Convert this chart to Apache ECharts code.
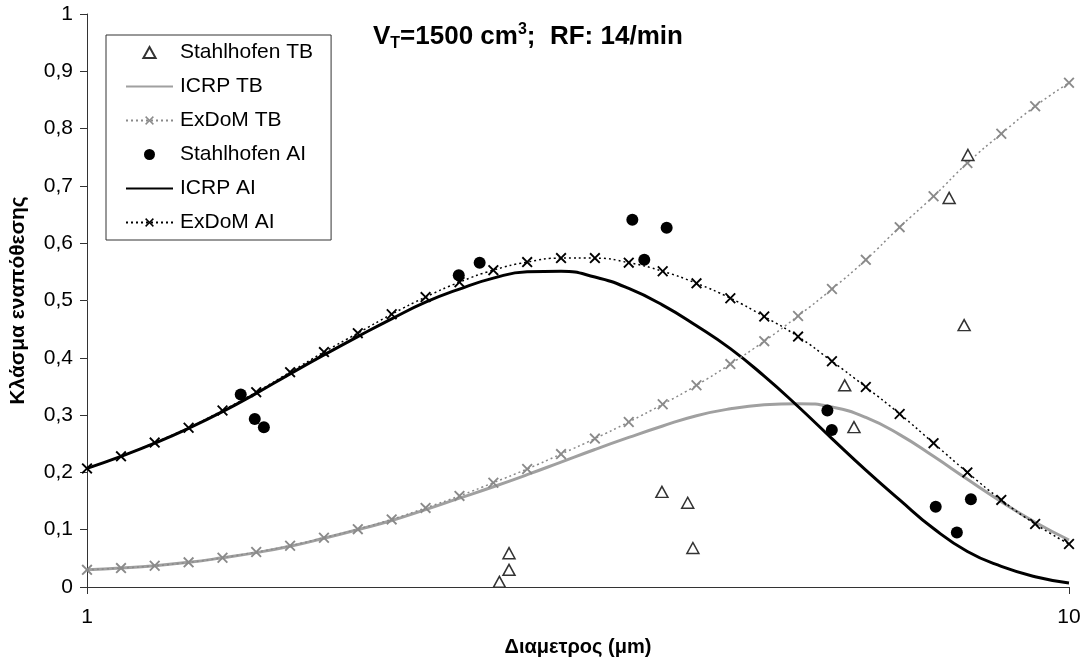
<!DOCTYPE html>
<html>
<head>
<meta charset="utf-8">
<script src="https://cdn.jsdelivr.net/npm/echarts@6/dist/echarts.min.js"></script>
<style>
html,body{margin:0;padding:0;background:#fff;}
#chart{width:1090px;height:663px;}
</style>
</head>
<body>
<div id="chart"></div>
<script>
// Particle diameters (µm) at which the model curves are tabulated
const xGrid = [1, 1.083, 1.172, 1.269, 1.374, 1.487, 1.610, 1.743, 1.887, 2.043,
  2.212, 2.395, 2.593, 2.807, 3.039, 3.290, 3.562, 3.857, 4.175, 4.520,
  4.894, 5.298, 5.736, 6.210, 6.723, 7.279, 7.880, 8.532, 9.237, 10];

const icrpTB = [0.030, 0.033, 0.037, 0.043, 0.051, 0.060, 0.071, 0.085, 0.100, 0.116,
  0.135, 0.155, 0.175, 0.196, 0.218, 0.240, 0.261, 0.281, 0.299, 0.311,
  0.318, 0.320, 0.314, 0.296, 0.266, 0.228, 0.188, 0.149, 0.113, 0.082];

const exdomTB = [0.030, 0.033, 0.037, 0.043, 0.051, 0.061, 0.072, 0.086, 0.101, 0.118,
  0.138, 0.159, 0.182, 0.206, 0.232, 0.259, 0.288, 0.319, 0.352, 0.389,
  0.429, 0.473, 0.520, 0.571, 0.628, 0.682, 0.740, 0.791, 0.839, 0.880];

const icrpAI = [0.207, 0.228, 0.251, 0.277, 0.306, 0.338, 0.372, 0.405, 0.437, 0.468,
  0.497, 0.520, 0.539, 0.550, 0.551, 0.541, 0.521, 0.492, 0.456, 0.416,
  0.368, 0.315, 0.259, 0.204, 0.152, 0.102, 0.062, 0.036, 0.018, 0.007];

const exdomAI = [0.207, 0.228, 0.252, 0.278, 0.308, 0.340, 0.375, 0.410, 0.443, 0.476,
  0.506, 0.532, 0.553, 0.567, 0.574, 0.574, 0.566, 0.551, 0.530, 0.504,
  0.472, 0.437, 0.394, 0.349, 0.302, 0.251, 0.200, 0.152, 0.110, 0.075];

// Stahlhofen measurements
const stahlTBx = [2.63, 2.69, 2.69, 3.85, 4.09, 4.14, 5.91, 6.04, 7.55, 7.82, 7.89];
const stahlTBy = [0.009, 0.030, 0.059, 0.166, 0.147, 0.068, 0.352, 0.279, 0.679, 0.457, 0.754];

const stahlAIx = [1.434, 1.482, 1.514, 2.391, 2.511, 3.592, 3.694, 3.893, 5.675, 5.734, 7.316, 7.688, 7.945];
const stahlAIy = [0.336, 0.293, 0.279, 0.544, 0.566, 0.641, 0.571, 0.627, 0.308, 0.274, 0.140, 0.095, 0.153];

const seriesNames = ['Stahlhofen TB', 'ICRP TB', 'ExDoM TB', 'Stahlhofen AI', 'ICRP AI', 'ExDoM AI'];
const xTitle = 'Διαμετρος (μm)';
const yTitle = 'Κλάσμα εναπόθεσης';

const zip = (xs, ys) => xs.map((x, i) => [x, ys[i]]);
const X_PATH = 'path://M0,1.2 L1.2,0 L5,3.8 L8.8,0 L10,1.2 L6.2,5 L10,8.8 L8.8,10 L5,6.2 L1.2,10 L0,8.8 L3.8,5 Z';
const TRI_PATH = 'path://M5,0 L10,9 L0,9 Z';
const FONT = 'Liberation Sans, Arial, sans-serif';

const chart = echarts.init(document.getElementById('chart'), null, {renderer: 'canvas'});
chart.setOption({
  animation: false,
  backgroundColor: '#fff',
  title: {
    text: '{m|V}{s|T}{m|=1500 cm}{p|3}{m|;  RF: 14/min}',
    left: 373, top: 22, padding: 0,
    textStyle: {
      rich: {
        m: {fontSize: 26, fontWeight: 'bold', fontFamily: FONT, color: '#000', lineHeight: 30},
        s: {fontSize: 16, fontWeight: 'bold', fontFamily: FONT, color: '#000', lineHeight: 16, verticalAlign: 'bottom'},
        p: {fontSize: 16, fontWeight: 'bold', fontFamily: FONT, color: '#000', lineHeight: 16, verticalAlign: 'top'}
      }
    }
  },
  legend: {
    orient: 'vertical', left: 106, top: 35,
    padding: [7, 18, 7, 19],
    itemWidth: 47, itemHeight: 11, itemGap: 13,
    symbolKeepAspect: true,
    borderColor: '#333', borderWidth: 1, backgroundColor: '#fff',
    textStyle: {fontSize: 21, fontFamily: FONT, color: '#000', lineHeight: 20, padding: [0, 0, 0, 2]},
    data: [
      {name: seriesNames[0], icon: TRI_PATH},
      {name: seriesNames[1], itemStyle: {opacity: 0}},
      {name: seriesNames[2]},
      {name: seriesNames[3], icon: 'circle'},
      {name: seriesNames[4], itemStyle: {opacity: 0}},
      {name: seriesNames[5]}
    ]
  },
  grid: {left: 87, right: 21, top: 14, bottom: 76, containLabel: false},
  xAxis: {
    type: 'log', logBase: 10, min: 1, max: 10,
    name: xTitle, nameLocation: 'middle', nameGap: 50,
    nameTextStyle: {fontSize: 20, fontWeight: 'bold', fontFamily: FONT, color: '#000'},
    axisLine: {lineStyle: {color: '#333', width: 1}},
    axisTick: {show: true, length: 7, lineStyle: {color: '#333'}},
    minorTick: {show: false},
    axisLabel: {fontSize: 21, fontFamily: FONT, color: '#000', margin: 20},
    splitLine: {show: false}
  },
  yAxis: {
    type: 'value', min: 0, max: 1, interval: 0.1,
    name: yTitle, nameLocation: 'middle', nameGap: 58, nameRotate: 90,
    nameTextStyle: {fontSize: 21, fontWeight: 'bold', fontFamily: FONT, color: '#000'},
    axisLine: {show: true, lineStyle: {color: '#333', width: 1}},
    axisTick: {show: true, length: 7, lineStyle: {color: '#333'}},
    axisLabel: {
      fontSize: 21, fontFamily: FONT, color: '#000', margin: 14,
      formatter: v => { const r = Math.round(v * 10) / 10; return String(r).replace('.', ','); }
    },
    splitLine: {show: false}
  },
  series: [
    {
      name: seriesNames[0], type: 'scatter', data: zip(stahlTBx, stahlTBy),
      symbol: 'triangle', symbolSize: [12, 11], z: 6,
      itemStyle: {color: '#fff', borderColor: '#333', borderWidth: 1.5, opacity: 1}
    },
    {
      name: seriesNames[1], type: 'line', data: zip(xGrid, icrpTB), smooth: true,
      symbol: 'none', z: 2,
      lineStyle: {color: '#a0a0a0', width: 3}, itemStyle: {color: '#a0a0a0'}
    },
    {
      name: seriesNames[2], type: 'line', data: zip(xGrid, exdomTB), smooth: true,
      symbol: X_PATH, symbolSize: 11, z: 3,
      lineStyle: {color: '#8a8a8a', width: 1.5, type: [2, 3]}, itemStyle: {color: '#8a8a8a'}
    },
    {
      name: seriesNames[3], type: 'scatter', data: zip(stahlAIx, stahlAIy),
      symbol: 'circle', symbolSize: 12, z: 6,
      itemStyle: {color: '#000', opacity: 1}
    },
    {
      name: seriesNames[4], type: 'line', data: zip(xGrid, icrpAI), smooth: true,
      symbol: 'none', z: 2,
      lineStyle: {color: '#000', width: 3}, itemStyle: {color: '#000'}
    },
    {
      name: seriesNames[5], type: 'line', data: zip(xGrid, exdomAI), smooth: true,
      symbol: X_PATH, symbolSize: 11, z: 3,
      lineStyle: {color: '#000', width: 1.5, type: [2, 3]}, itemStyle: {color: '#000'}
    }
  ]
});
</script>
</body>
</html>
